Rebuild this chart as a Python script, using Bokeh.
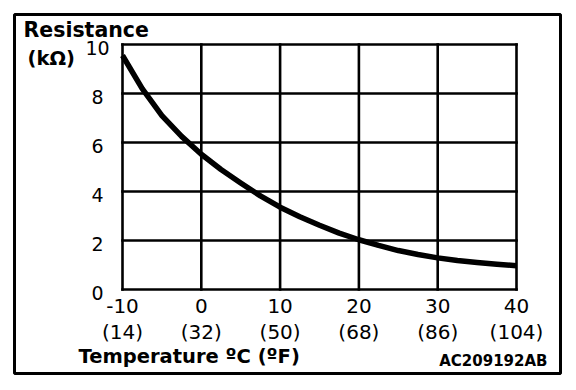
from bokeh.plotting import figure
from bokeh.models import Range1d
from bokeh.core.properties import value
from bokeh.embed import file_html
from bokeh.resources import INLINE

# ---- data ----
temp_c = [-10, -7.5, -5, -2.5, 0, 2.5, 5, 7.5, 10, 12.5, 15, 17.5, 20,
          22.5, 25, 27.5, 30, 32.5, 35, 37.5, 40]
resistance = [9.55, 8.2, 7.1, 6.25, 5.52, 4.9, 4.35, 3.82, 3.36, 2.97, 2.62,
              2.3, 2.03, 1.8, 1.59, 1.43, 1.29, 1.18, 1.1, 1.03, 0.97]

x_ticks_c = [-10, 0, 10, 20, 30, 40]
x_labels_f = ["(14)", "(32)", "(50)", "(68)", "(86)", "(104)"]
y_ticks = [0, 2, 4, 6, 8, 10]

y_title_1 = "Resistance"
y_title_2 = "(kΩ)"
x_title = "Temperature ºC (ºF)"
code_label = "AC209192AB"

# ---- layout (pixels) ----
FRAME_W, FRAME_H = 546, 359
MB_L, MB_T, MB_R, MB_B = 14, 14, 4, 4
BOX_L, BOX_R = 108, 502      # plot box inside the frame
BOX_T, BOX_B = 30, 275

x_lo, x_hi = min(x_ticks_c), max(x_ticks_c)
y_lo, y_hi = min(y_ticks), max(y_ticks)
sx = (BOX_R - BOX_L) / (x_hi - x_lo)
sy = (BOX_B - BOX_T) / (y_hi - y_lo)
x_start = x_lo - BOX_L / sx
y_end = y_hi + BOX_T / sy

p = figure(width=MB_L + FRAME_W + MB_R, height=MB_T + FRAME_H + MB_B,
           x_range=Range1d(x_start, x_start + FRAME_W / sx),
           y_range=Range1d(y_end - FRAME_H / sy, y_end),
           x_axis_type=None, y_axis_type=None,
           output_backend="svg", toolbar_location=None,
           min_border_left=MB_L, min_border_top=MB_T,
           min_border_right=MB_R, min_border_bottom=MB_B)
p.outline_line_color = "black"
p.outline_line_width = 3
p.background_fill_color = "white"
p.border_fill_color = "white"

n_x, n_y = len(x_ticks_c), len(y_ticks)
# vertical grid lines (incl. box sides)
p.segment(x0=x_ticks_c, y0=[y_lo] * n_x, x1=x_ticks_c, y1=[y_hi] * n_x,
          line_color="black", line_width=2.6, line_cap="square")
# horizontal grid lines (incl. box top/bottom)
p.segment(x0=[x_lo] * n_y, y0=y_ticks, x1=[x_hi] * n_y, y1=y_ticks,
          line_color="black", line_width=2.6, line_cap="square")

# curve
p.line(temp_c, resistance, line_color="black", line_width=5.5,
       line_join="round")

REG = value("DejaVu Sans")

# y tick labels
p.text(x=[x_lo] * n_y, y=y_ticks, text=[str(v) for v in y_ticks],
       text_align="center", text_baseline="middle", x_offset=-25, y_offset=3,
       text_font=REG, text_font_size="19px", text_color="black")
# x tick labels (celsius / fahrenheit)
p.text(x=x_ticks_c, y=[y_lo] * n_x, text=[str(v) for v in x_ticks_c],
       text_align="center", text_baseline="middle", y_offset=16.5,
       text_font=REG, text_font_size="20px", text_color="black")
p.text(x=x_ticks_c, y=[y_lo] * n_x, text=x_labels_f,
       text_align="center", text_baseline="middle", y_offset=42,
       text_font=REG, text_font_size="20px", text_color="black")

# titles
p.text(x=[x_lo], y=[y_hi], text=[y_title_1], text_align="left",
       text_baseline="alphabetic", x_offset=-99, y_offset=-15,
       text_font=REG, text_font_style="bold", text_font_size="20.5px",
       text_color="black")
p.text(x=[x_lo], y=[y_hi], text=[y_title_2], text_align="left",
       text_baseline="alphabetic", x_offset=-95, y_offset=14,
       text_font=REG, text_font_style="bold", text_font_size="19.5px",
       text_color="black")
p.text(x=[x_lo], y=[y_lo], text=[x_title], text_align="left",
       text_baseline="alphabetic", x_offset=-44, y_offset=67,
       text_font=REG, text_font_style="bold", text_font_size="19.5px",
       text_color="black")
p.text(x=[x_hi], y=[y_lo], text=[code_label], text_align="right",
       text_baseline="alphabetic", x_offset=31, y_offset=71,
       text_font=REG, text_font_style="bold", text_font_size="15px",
       text_color="black")

open("out.html", "w").write(file_html(p, INLINE))
